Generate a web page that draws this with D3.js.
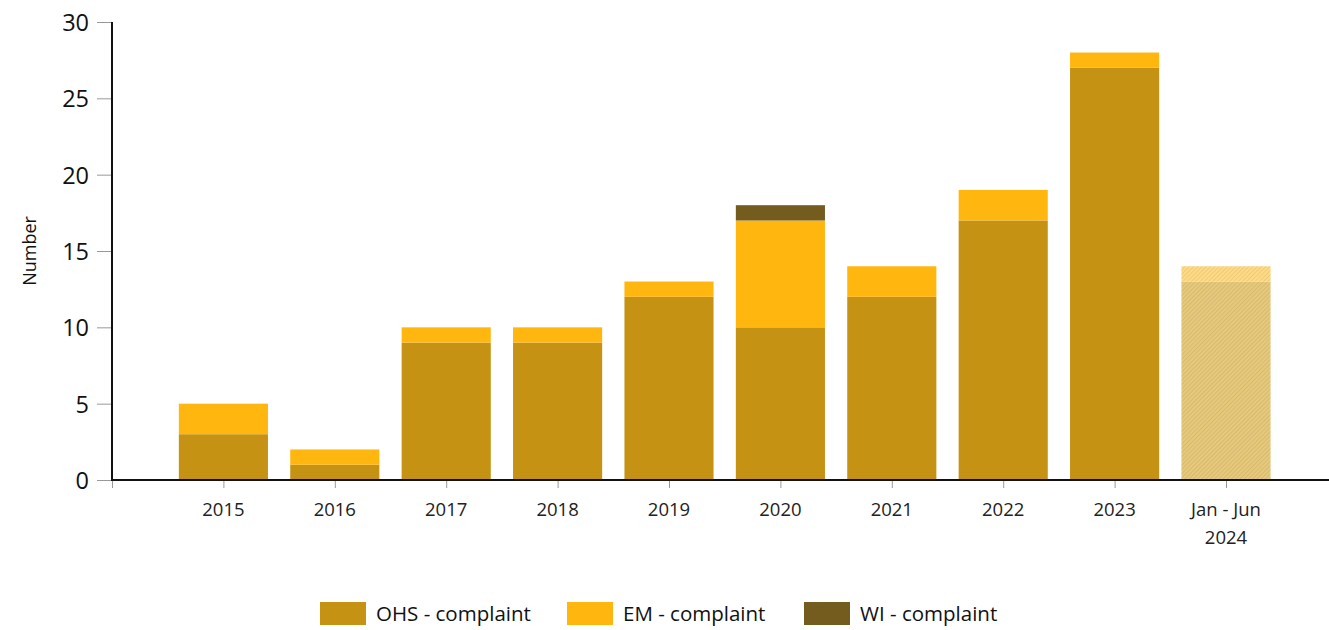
<!DOCTYPE html>
<html><head><meta charset="utf-8">
<script src="https://cdn.jsdelivr.net/npm/d3@7"></script>
<style>body{margin:0;background:#fff;font-family:"Open Sans","Noto Sans",sans-serif;}</style>
</head><body><svg id="c" width="1329" height="630"></svg>
<script>
const categories = ["2015","2016","2017","2018","2019","2020","2021","2022","2023","Jan - Jun\n2024"];
const ohs = [3,1,9,9,12,10,12,17,27,13];
const em = [2,1,1,1,1,7,2,2,1,1];
const wi = [0,0,0,0,0,1,0,0,0,0];
const seriesNames = ["OHS - complaint","EM - complaint","WI - complaint"];
const colors = ["#C69214","#FFB60F","#735C1E"];
const partialColors = ["#E6C97A","#FFDA85","#B9AD8E"];
const yTicks = [0,5,10,15,20,25,30];

const svg = d3.select("#c");
const x0 = 112, x1 = 1329, yTop = 22, yBot = 480;
const step = 111.4;
const x = d3.scaleLinear().domain([0, categories.length + 1]).range([x0, x0 + step*(categories.length+1)]);
const y = d3.scaleLinear().domain([0,30]).range([yBot, yTop]);

const defs = svg.append("defs");
partialColors.forEach((c,i)=>{
  const p = defs.append("pattern").attr("id","hatch"+i).attr("patternUnits","userSpaceOnUse")
    .attr("width",3).attr("height",3).attr("patternTransform","rotate(45)");
  p.append("rect").attr("width",3).attr("height",3).attr("fill",c);
  p.append("line").attr("x1",0).attr("y1",0).attr("x2",0).attr("y2",3)
    .attr("stroke",d3.color(c).darker(0.35)).attr("stroke-width",1.2);
});

const data = categories.map((c,i)=>({cat:c, i, OHS:ohs[i], EM:em[i], WI:wi[i]}));
const stack = d3.stack().keys(["OHS","EM","WI"])(data);
const bw = step*0.8;
stack.forEach((layer,k)=>{
  svg.append("g").selectAll("rect").data(layer).join("rect")
    .attr("x", d=>x(d.data.i+1)-bw/2)
    .attr("width", bw)
    .attr("y", d=>y(d[1]))
    .attr("height", d=>y(d[0])-y(d[1]))
    .attr("fill", d=> d.data.i===categories.length-1 ? `url(#hatch${k})` : colors[k]);
});

// y axis
const yAxis = svg.append("g").attr("transform",`translate(${x0},0)`)
  .call(d3.axisLeft(y).tickValues(yTicks).tickSize(15).tickPadding(8));
yAxis.select(".domain").remove();
yAxis.selectAll(".tick line").attr("stroke","#999").attr("stroke-width",1);
yAxis.selectAll(".tick text").attr("font-size",23.5).attr("fill","#111").attr("font-family","Open Sans, sans-serif").attr("dy","0.36em");
svg.append("line").attr("x1",x0).attr("x2",x0).attr("y1",yTop).attr("y2",yBot+1).attr("stroke","#111").attr("stroke-width",2);

// x axis
const xAxis = svg.append("g").attr("transform",`translate(0,${yBot})`)
  .call(d3.axisBottom(x).tickValues(d3.range(0,categories.length+1)).tickSize(8).tickFormat(""));
xAxis.select(".domain").remove();
xAxis.selectAll(".tick line").attr("stroke","#999");
svg.append("line").attr("x1",x0-1).attr("x2",x1).attr("y1",yBot).attr("y2",yBot).attr("stroke","#111").attr("stroke-width",2);
const xl = svg.append("g");
categories.forEach((c,i)=>{
  const t = xl.append("text").attr("x",x(i+1)).attr("y",516).attr("text-anchor","middle")
    .attr("font-size",18.5).attr("fill","#222");
  c.split("\n").forEach((s,j)=>t.append("tspan").attr("x",x(i+1)).attr("dy", j===0?0:28).text(s));
});

// y label
svg.append("text").attr("transform","translate(36,251) rotate(-90)").attr("text-anchor","middle")
  .attr("font-size",18).attr("fill","#111").text("Number");

// legend
const legX = [320,567,804];
seriesNames.forEach((n,i)=>{
  svg.append("rect").attr("x",legX[i]).attr("y",602).attr("width",46).attr("height",23).attr("fill",colors[i]);
  svg.append("text").attr("x",legX[i]+56).attr("y",621).attr("font-size",20.5).attr("fill","#111").text(n);
});
</script></body></html>
